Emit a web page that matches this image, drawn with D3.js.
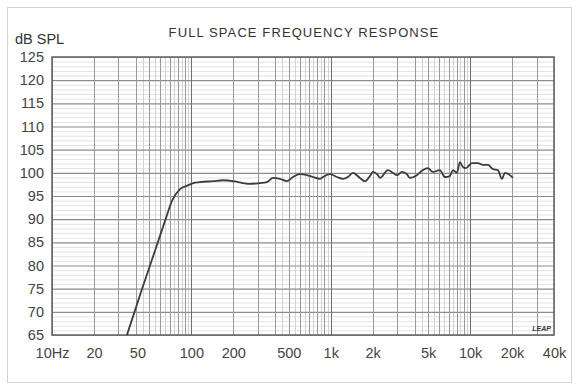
<!DOCTYPE html>
<html>
<head>
<meta charset="utf-8">
<script src="https://cdn.jsdelivr.net/npm/d3@7"></script>
<style>
  body { margin: 0; background: #fff; }
  svg { display: block; font-family: "Liberation Sans", Arial, sans-serif; }
</style>
</head>
<body>
<div id="container"></div>
<script>
"use strict";

// Response curve (Hz, dB SPL).
const freqs = [34.5, 44, 55, 65, 73, 83, 93, 103, 115, 143, 169, 199, 234, 263, 310, 348, 385, 432, 485, 536,
  601, 675, 745, 837, 880, 987, 1107, 1223, 1328, 1442, 1619, 1758, 1910, 2008, 2182, 2255, 2572, 2794, 2985,
  3243, 3524, 3700, 4153, 4585, 4980, 5410, 6070, 6590, 7160, 7530, 8040, 8450, 8870, 9330, 10300, 11380,
  12360, 13430, 14590, 15830, 16910, 17770, 19310, 20280];
const spl = [65.0, 74.7, 83.3, 89.8, 94.1, 96.5, 97.2, 97.8, 98.0, 98.2, 98.4, 98.2, 97.8, 97.6, 97.8, 98.0,
  98.9, 98.7, 98.2, 99.1, 99.7, 99.5, 99.1, 98.7, 99.1, 99.7, 99.1, 98.7, 99.1, 100.0, 98.9, 98.2, 99.3, 100.2,
  99.5, 98.9, 100.6, 100.0, 99.5, 100.2, 99.7, 98.9, 99.5, 100.6, 101.0, 100.2, 100.6, 99.1, 99.3, 100.6, 100.0,
  102.3, 101.3, 101.0, 102.1, 102.1, 101.7, 101.7, 100.8, 100.6, 98.7, 100.0, 99.5, 98.9];

const xTickValues = [10, 20, 50, 100, 200, 500, 1000, 2000, 5000, 10000, 20000, 40000];
const xTickLabels = ["10Hz", "20", "50", "100", "200", "500", "1k", "2k", "5k", "10k", "20k", "40k"];
const yTickValues = [65, 70, 75, 80, 85, 90, 95, 100, 105, 110, 115, 120, 125];

const width = 579, height = 390;
const margin = { top: 57, right: 25, bottom: 55, left: 52 };

const x = d3.scaleLog().domain([10, 40000]).range([margin.left, width - margin.right]);
const y = d3.scaleLinear().domain([65, 125]).range([height - margin.bottom, margin.top]);

const svg = d3.create("svg").attr("width", width).attr("height", height);

// Outer frame.
svg.append("rect")
  .attr("x", 7.5).attr("y", 7.5).attr("width", width - 15).attr("height", height - 15)
  .attr("fill", "#fff").attr("stroke", "#d4d4d4");

const grid = svg.append("g");

// Fine grid: 1 dB steps and half-steps in frequency.
const fineY = d3.range(65, 126, 1).filter((d) => d % 5 !== 0);
grid.selectAll(".fy").data(fineY).join("line")
  .attr("x1", x.range()[0]).attr("x2", x.range()[1])
  .attr("y1", (d) => y(d) + 0.5).attr("y2", (d) => y(d) + 0.5)
  .attr("stroke", "#e2e2e2");

const fineX = [];
const logLines = [];
for (let dec = 10; dec < 40000; dec *= 10) {
  for (let m = 1; m < 10; m++) {
    if (dec * m <= 40000) logLines.push(dec * m);
    if (m >= 4 && dec * (m + 0.5) < 40000) fineX.push(dec * (m + 0.5));
  }
}
grid.selectAll(".fx").data(fineX).join("line")
  .attr("x1", (d) => Math.round(x(d)) + 0.5).attr("x2", (d) => Math.round(x(d)) + 0.5)
  .attr("y1", y.range()[0]).attr("y2", y.range()[1])
  .attr("stroke", "#d2d2d2");

// Main grid.
grid.selectAll(".my").data(yTickValues).join("line")
  .attr("x1", x.range()[0]).attr("x2", x.range()[1])
  .attr("y1", (d) => y(d) + 0.5).attr("y2", (d) => y(d) + 0.5)
  .attr("stroke", "#8c8c8c").attr("stroke-width", 1.2);

grid.selectAll(".mx").data(logLines).join("line")
  .attr("x1", (d) => Math.round(x(d)) + 0.5).attr("x2", (d) => Math.round(x(d)) + 0.5)
  .attr("y1", y.range()[0]).attr("y2", y.range()[1])
  .attr("stroke", (d) => (Math.log10(d) % 1 === 0 ? "#6e6e6e" : "#999"));

// Plot border.
svg.append("rect")
  .attr("x", x.range()[0]).attr("y", y.range()[1])
  .attr("width", x.range()[1] - x.range()[0]).attr("height", y.range()[0] - y.range()[1])
  .attr("fill", "none").attr("stroke", "#6a6a6a").attr("stroke-width", 1.6);

// Response curve.
const line = d3.line().x((d, i) => x(freqs[i])).y((d) => y(d)).curve(d3.curveMonotoneX);
svg.append("path")
  .datum(spl)
  .attr("d", line)
  .attr("fill", "none")
  .attr("stroke", "#3c3c3c")
  .attr("stroke-width", 1.8)
  .attr("stroke-linejoin", "round");

// Y axis labels.
svg.append("g")
  .attr("transform", `translate(${margin.left}, 0)`)
  .call(d3.axisLeft(y).tickValues(yTickValues).tickSize(0).tickPadding(8))
  .call((g) => g.select(".domain").remove())
  .selectAll("text")
  .style("font-size", "14.5px")
  .style("font-family", "Liberation Sans, Arial, sans-serif")
  .attr("fill", "#444");

// X axis labels ("50" sits a little left of its grid line in the original).
svg.append("g")
  .attr("transform", `translate(0, ${height - margin.bottom})`)
  .call(d3.axisBottom(x).tickValues(xTickValues).tickSize(0).tickPadding(13)
    .tickFormat((d, i) => xTickLabels[i]))
  .call((g) => g.select(".domain").remove())
  .selectAll("text")
  .style("font-size", "14.5px")
  .style("font-family", "Liberation Sans, Arial, sans-serif")
  .attr("fill", "#444")
  .attr("dx", (d) => (d === 50 ? -12 : 0));

// Titles.
svg.append("text")
  .attr("x", 15).attr("y", 44)
  .style("font-size", "14.5px").attr("fill", "#333")
  .text("dB SPL");

svg.append("text")
  .attr("x", 304).attr("y", 37)
  .attr("text-anchor", "middle")
  .style("font-size", "13px").style("letter-spacing", "1.1px").attr("fill", "#333")
  .text("FULL SPACE FREQUENCY RESPONSE");

svg.append("text")
  .attr("x", 551).attr("y", 331)
  .attr("text-anchor", "end")
  .style("font-size", "7px").style("font-weight", "bold").style("font-style", "italic")
  .attr("fill", "#333")
  .text("LEAP");

d3.select("#container").append(() => svg.node());
</script>
</body>
</html>
